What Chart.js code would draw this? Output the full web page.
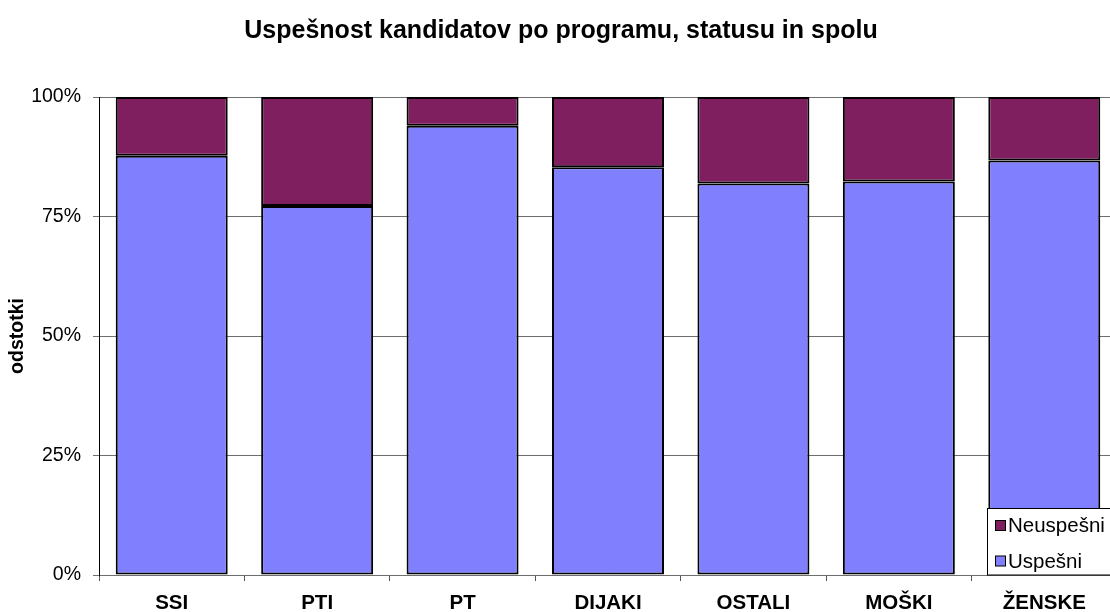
<!DOCTYPE html>
<html>
<head>
<meta charset="utf-8">
<script src="https://cdn.jsdelivr.net/npm/chart.js@4/dist/chart.umd.min.js"></script>
<style>
    html, body { margin: 0; padding: 0; overflow: hidden; background: #fff; }
    #wrap { width: 1140px; height: 612px; }
</style>
</head>
<body>
<div id="wrap"><canvas id="successChart" width="1140" height="612"></canvas></div>
<script>
//chart data
const categories = ['SSI', 'PTI', 'PT', 'DIJAKI', 'OSTALI', 'MOŠKI', 'ŽENSKE'];
const uspesni = [87.7, 77.2, 94.0, 85.3, 81.9, 82.3, 86.7];
const neuspesni = [12.3, 22.8, 6.0, 14.7, 18.1, 17.7, 13.3];
const yTickValues = [0, 25, 50, 75, 100];

const FONT = '"Liberation Sans", Arial, sans-serif';

//plugin to draw the boxed legend in the lower right corner like the original
const boxLegend = {
    id: 'boxLegend',
    afterDraw(chart) {
        const ctx = chart.ctx;
        const area = chart.chartArea;
        const left = 987, top = 508, right = 1130, bottom = area.bottom;
        ctx.save();
        ctx.fillStyle = '#fff';
        ctx.fillRect(left, top, right - left, bottom - top);
        ctx.strokeStyle = '#000';
        ctx.lineWidth = 1;
        ctx.strokeRect(left + 0.5, top + 0.5, right - left, bottom - top - 0.5);
        ctx.font = '20.5px ' + FONT;
        ctx.textBaseline = 'middle';
        const sets = chart.data.datasets.slice().reverse();
        sets.forEach((ds, i) => {
            const cy = 525.5 + i * 35.5;
            ctx.fillStyle = ds.backgroundColor;
            ctx.fillRect(995.5, cy - 5, 10, 10);
            ctx.strokeStyle = '#000';
            ctx.strokeRect(995.5, cy - 5, 10, 10);
            ctx.fillStyle = '#000';
            ctx.fillText(ds.label, 1008, cy + 1);
        });
        ctx.restore();
    }
};

new Chart(document.getElementById('successChart').getContext('2d'), {
    type: 'bar',
    data: {
        labels: categories,
        datasets: [{
            label: 'Uspešni',
            data: uspesni,
            backgroundColor: '#8080FF',
            borderColor: '#000',
            borderWidth: 2,
            borderSkipped: false
        }, {
            label: 'Neuspešni',
            data: neuspesni,
            backgroundColor: '#7F1F5F',
            borderColor: '#000',
            borderWidth: 2,
            borderSkipped: false
        }]
    },
    plugins: [boxLegend],
    options: {
        responsive: false,
        animation: false,
        devicePixelRatio: 1,
        layout: { padding: { left: 5, right: 23, top: 0, bottom: 0 } },
        datasets: {
            bar: { categoryPercentage: 1, barPercentage: 0.77 }
        },
        scales: {
            x: {
                stacked: true,
                afterFit: scale => { scale.height = 37; },
                border: { display: true, color: '#6e6e6e', width: 1 },
                grid: {
                    offset: true,
                    drawOnChartArea: false,
                    drawTicks: true,
                    tickLength: 6,
                    color: '#555'
                },
                ticks: {
                    color: '#000',
                    padding: 10,
                    font: { family: FONT, size: 20.5, weight: 'bold' }
                }
            },
            y: {
                stacked: true,
                min: 0,
                max: 100,
                afterFit: scale => { scale.width = 94; },
                afterBuildTicks: scale => { scale.ticks = yTickValues.map(v => ({ value: v })); },
                border: { display: true, color: '#000', width: 1 },
                grid: {
                    color: '#6e6e6e',
                    lineWidth: 1,
                    tickLength: 6
                },
                ticks: {
                    color: '#000',
                    padding: 12,
                    font: { family: FONT, size: 19.5 },
                    callback: v => v + '%'
                },
                title: {
                    display: true,
                    text: 'odstotki',
                    color: '#000',
                    padding: { top: 1, bottom: 0 },
                    font: { family: FONT, size: 19.5, weight: 'bold' }
                }
            }
        },
        plugins: {
            legend: { display: false },
            tooltip: { enabled: false },
            title: {
                display: true,
                text: 'Uspešnost kandidatov po programu, statusu in spolu',
                color: '#000',
                padding: { top: 16, bottom: 51 },
                font: { family: FONT, size: 25, weight: 'bold' }
            }
        }
    }
});
</script>
</body>
</html>
